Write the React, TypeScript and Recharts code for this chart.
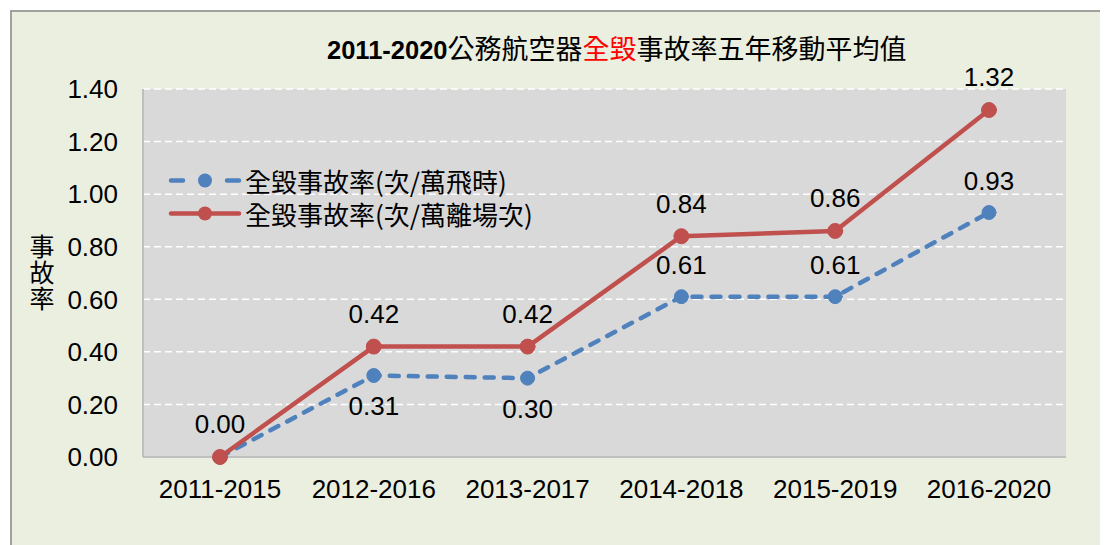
import React from 'react';
import { LineChart, Line, XAxis, YAxis, CartesianGrid, Legend, LabelList } from 'recharts';

const periods = ['2011-2015', '2012-2016', '2013-2017', '2014-2018', '2015-2019', '2016-2020'];
const perFlightHours = [0, 0.31, 0.3, 0.61, 0.61, 0.93];
const perTakeoffs = [0, 0.42, 0.42, 0.84, 0.86, 1.32];
const yTicks = [0, 0.2, 0.4, 0.6, 0.8, 1.0, 1.2, 1.4];
const seriesNames = ['全毀事故率(次/萬飛時)', '全毀事故率(次/萬離場次)'];
const titleLatin = '2011-2020';
const titleParts = ['公務航空器', '全毀', '事故率五年移動平均值'];
const yAxisLabel = ['事', '故', '率'];

const data = periods.map((p, i) => ({ period: p, hours: perFlightHours[i], takeoffs: perTakeoffs[i] }));

const BLUE = '#4f81bd';
const RED = '#c0504d';
const NUM_FONT = '"Liberation Sans", Arial, sans-serif';
const CJK_FONT = '"Noto Sans CJK TC", "Noto Sans CJK SC", sans-serif';
const FS = 26;
const BAND_PAD = 77;

const RedLabel = (props: any) => {
  const { x, y, value } = props;
  return (
    <text x={x} y={y - 33} dy={FS * 0.36} textAnchor="middle" fontFamily={NUM_FONT} fontSize={FS} fill="#000">
      {Number(value).toFixed(2)}
    </text>
  );
};

const BlueLabel = (props: any) => {
  const { x, y, value, index } = props;
  if (!value) return null;
  const gap = perTakeoffs[index] - perFlightHours[index];
  const below = gap < 0.2;
  return (
    <text x={x} y={below ? y + 30 : y - 32} dy={FS * 0.36} textAnchor="middle" fontFamily={NUM_FONT} fontSize={FS} fill="#000">
      {Number(value).toFixed(2)}
    </text>
  );
};

const YLabel = (props: any) => {
  const { viewBox } = props;
  const cx = viewBox.x + 30;
  const cy = viewBox.y + viewBox.height / 2;
  return (
    <g>
      {yAxisLabel.map((c, i) => (
        <text key={i} x={cx} y={cy + (i - 1) * 26} dy={9} textAnchor="middle" fontFamily={CJK_FONT} fontSize={25} fill="#000">
          {c}
        </text>
      ))}
    </g>
  );
};

const LegendContent = () => (
  <div style={{ fontFamily: CJK_FONT, fontSize: 26, color: '#000' }}>
    {seriesNames.map((name, i) => (
      <div key={i} style={{ display: 'flex', alignItems: 'center', height: 33 }}>
        <svg width={80} height={33} style={{ display: 'block' }}>
          <line
            x1={6}
            x2={74}
            y1={16.5}
            y2={16.5}
            stroke={i === 0 ? BLUE : RED}
            strokeWidth={4.5}
            strokeLinecap="round"
            strokeDasharray={i === 0 ? '12 21 0 23 12' : undefined}
          />
          <circle cx={40} cy={16.5} r={7} fill={i === 0 ? BLUE : RED} />
        </svg>
        <span style={{ lineHeight: '33px', whiteSpace: 'nowrap' }}>{name}</span>
      </div>
    ))}
  </div>
);

export default function App() {
  return (
    <div
      style={{
        position: 'relative',
        marginLeft: 2,
        marginTop: 2,
        width: 1098,
        height: 535,
        borderTop: '2px solid #a0a0a0',
        borderLeft: '2px solid #a0a0a0',
        background: '#ebefe0',
        overflow: 'hidden',
      }}
    >
      <div
        style={{
          position: 'absolute',
          left: 315,
          top: 22,
          lineHeight: '28px',
          whiteSpace: 'nowrap',
          fontSize: 27,
          color: '#000',
        }}
      >
        <span style={{ fontFamily: NUM_FONT, fontWeight: 'bold', fontSize: 25.5 }}>{titleLatin}</span>
        <span style={{ fontFamily: CJK_FONT }}>{titleParts[0]}</span>
        <span style={{ fontFamily: CJK_FONT, color: '#ff0000' }}>{titleParts[1]}</span>
        <span style={{ fontFamily: CJK_FONT }}>{titleParts[2]}</span>
      </div>
      <LineChart width={1096} height={533} data={data} margin={{ top: 77, right: 42, left: 0, bottom: 0 }}>
        <CartesianGrid vertical={false} fill="#d9d9d9" stroke="#ffffff" strokeWidth={1.5} strokeDasharray="7 4" />
        <XAxis
          dataKey="period"
          height={88}
          padding={{ left: BAND_PAD, right: BAND_PAD }}
          tickLine={false}
          tickSize={0}
          tickMargin={23}
          axisLine={{ stroke: '#bfbfbf', strokeWidth: 2 }}
          tick={{ fontFamily: NUM_FONT, fontSize: FS, fill: '#000' }}
          interval={0}
        />
        <XAxis
          xAxisId="top"
          dataKey="period"
          orientation="top"
          height={0}
          padding={{ left: BAND_PAD, right: BAND_PAD }}
          tick={false}
          tickLine={false}
          axisLine={{ stroke: '#bfbfbf', strokeWidth: 2 }}
        />
        <YAxis
          width={131}
          domain={[0, 1.4]}
          ticks={yTicks}
          tickFormatter={(v: number) => v.toFixed(2)}
          tickLine={false}
          tickSize={0}
          tickMargin={25}
          axisLine={{ stroke: '#bfbfbf', strokeWidth: 2 }}
          tick={{ fontFamily: NUM_FONT, fontSize: FS, fill: '#000' }}
          label={<YLabel />}
        />
        <YAxis yAxisId="right" orientation="right" width={0} domain={[0, 1.4]} tick={false} tickLine={false} axisLine={{ stroke: '#bfbfbf', strokeWidth: 2 }} />
        <Legend
          layout="vertical"
          align="center"
          verticalAlign="middle"
          content={<LegendContent />}
          wrapperStyle={{ left: 153, top: 152, width: 'auto' }}
        />
        <Line
          dataKey="hours"
          name={seriesNames[0]}
          stroke={BLUE}
          strokeWidth={4.5}
          strokeDasharray="9 10"
          strokeLinecap="round"
          strokeLinejoin="round"
          dot={{ r: 7, fill: BLUE, stroke: BLUE, strokeWidth: 1, strokeDasharray: '' }}
          activeDot={false}
          isAnimationActive={false}
        >
          <LabelList dataKey="hours" content={<BlueLabel />} />
        </Line>
        <Line
          dataKey="takeoffs"
          name={seriesNames[1]}
          stroke={RED}
          strokeWidth={4.5}
          strokeLinecap="round"
          strokeLinejoin="round"
          dot={{ r: 7.5, fill: RED, stroke: RED, strokeWidth: 1 }}
          activeDot={false}
          isAnimationActive={false}
        >
          <LabelList dataKey="takeoffs" content={<RedLabel />} />
        </Line>
      </LineChart>
    </div>
  );
}
